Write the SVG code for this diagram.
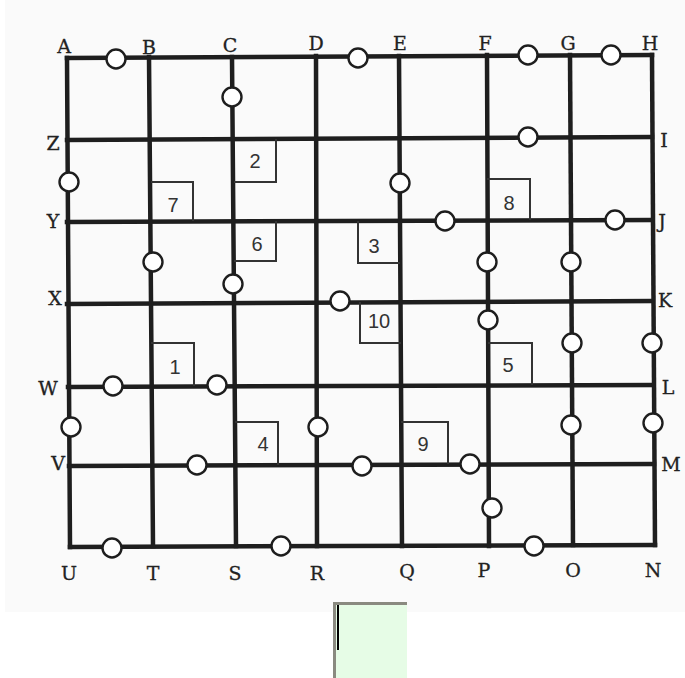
<svg xmlns="http://www.w3.org/2000/svg" width="685" height="678" viewBox="0 0 685 678">
<style>
.ln{stroke:#1e1e1e;stroke-width:4.5;stroke-linecap:square;fill:none}
.bx{stroke:#333;stroke-width:2;fill:none}
.c{fill:#fff;stroke:#1e1e1e;stroke-width:2.4}
.lb{font-family:"DejaVu Serif","Liberation Serif",serif;font-size:19px;fill:#222;stroke:#222;stroke-width:0.3;text-anchor:middle}
.num{font-family:"Liberation Sans","DejaVu Sans",sans-serif;font-size:20px;fill:#333;text-anchor:middle}
</style>
<rect x="0" y="0" width="685" height="678" fill="#fff"/>
<rect x="5" y="0" width="680" height="612" fill="#fafafa"/>
<g id="connectors">
<line class="ln" x1="67" y1="58" x2="652" y2="55"/>
<line class="ln" x1="67" y1="140" x2="652" y2="137"/>
<line class="ln" x1="67" y1="222" x2="652" y2="220"/>
<line class="ln" x1="67" y1="304" x2="652" y2="301"/>
<line class="ln" x1="68" y1="387" x2="653" y2="385"/>
<line class="ln" x1="69" y1="466" x2="654" y2="464"/>
<line class="ln" x1="70" y1="547" x2="655" y2="545"/>
<line class="ln" x1="67" y1="58" x2="70" y2="547"/>
<line class="ln" x1="149" y1="57" x2="153" y2="546"/>
<line class="ln" x1="232" y1="57" x2="236" y2="546"/>
<line class="ln" x1="316" y1="56" x2="317" y2="546"/>
<line class="ln" x1="399" y1="56" x2="402" y2="546"/>
<line class="ln" x1="487" y1="55" x2="489" y2="546"/>
<line class="ln" x1="570" y1="55" x2="573" y2="545"/>
<line class="ln" x1="652" y1="55" x2="655" y2="545"/>
</g>
<g id="boxes">
<g id="box2"><polyline class="bx" points="276,139 276,182 234,182"/><text class="num" x="255" y="168">2</text></g>
<g id="box7"><polyline class="bx" points="151,182 193,182 193,221"/><text class="num" x="173" y="212">7</text></g>
<g id="box6"><polyline class="bx" points="276,221 276,261 234,261"/><text class="num" x="257" y="251">6</text></g>
<g id="box3"><polyline class="bx" points="358,221 358,263 400,263"/><text class="num" x="374" y="253">3</text></g>
<g id="box8"><polyline class="bx" points="487,179 530,179 530,220"/><text class="num" x="509" y="210">8</text></g>
<g id="box10"><polyline class="bx" points="360,302 360,343 401,343"/><text class="num" x="379" y="328">10</text></g>
<g id="box1"><polyline class="bx" points="151,343 194,343 194,386"/><text class="num" x="175" y="374">1</text></g>
<g id="box4"><polyline class="bx" points="235,422 278,422 278,465"/><text class="num" x="263" y="451">4</text></g>
<g id="box5"><polyline class="bx" points="488,343 532,343 532,385"/><text class="num" x="508" y="372">5</text></g>
<g id="box9"><polyline class="bx" points="401,422 448,422 448,464"/><text class="num" x="423" y="451">9</text></g>
</g>
<g id="circles">
<circle class="c" cx="116" cy="59" r="9.5"/>
<circle class="c" cx="358" cy="58" r="9.5"/>
<circle class="c" cx="528" cy="55" r="9.5"/>
<circle class="c" cx="611" cy="55" r="9.5"/>
<circle class="c" cx="232" cy="97" r="9.5"/>
<circle class="c" cx="528" cy="137" r="9.5"/>
<circle class="c" cx="69" cy="182" r="9.5"/>
<circle class="c" cx="400" cy="183" r="9.5"/>
<circle class="c" cx="445" cy="221" r="9.5"/>
<circle class="c" cx="615" cy="220" r="9.5"/>
<circle class="c" cx="153" cy="262" r="9.5"/>
<circle class="c" cx="233" cy="284" r="9.5"/>
<circle class="c" cx="487" cy="262" r="9.5"/>
<circle class="c" cx="571" cy="262" r="9.5"/>
<circle class="c" cx="340" cy="301" r="9.5"/>
<circle class="c" cx="488" cy="320" r="9.5"/>
<circle class="c" cx="572" cy="343" r="9.5"/>
<circle class="c" cx="652" cy="343" r="9.5"/>
<circle class="c" cx="113" cy="386" r="9.5"/>
<circle class="c" cx="217" cy="385" r="9.5"/>
<circle class="c" cx="71" cy="427" r="9.5"/>
<circle class="c" cx="318" cy="427" r="9.5"/>
<circle class="c" cx="571" cy="425" r="9.5"/>
<circle class="c" cx="653" cy="423" r="9.5"/>
<circle class="c" cx="197" cy="465" r="9.5"/>
<circle class="c" cx="362" cy="466" r="9.5"/>
<circle class="c" cx="470" cy="464" r="9.5"/>
<circle class="c" cx="492" cy="508" r="9.5"/>
<circle class="c" cx="112" cy="548" r="9.5"/>
<circle class="c" cx="281" cy="546" r="9.5"/>
<circle class="c" cx="534" cy="546" r="9.5"/>
</g>
<g id="labels">
<text class="lb" x="64" y="53">A</text>
<text class="lb" x="149" y="54">B</text>
<text class="lb" x="230" y="52">C</text>
<text class="lb" x="316" y="50">D</text>
<text class="lb" x="400" y="50">E</text>
<text class="lb" x="485" y="50">F</text>
<text class="lb" x="568" y="50">G</text>
<text class="lb" x="650" y="50">H</text>
<text class="lb" x="53" y="150">Z</text>
<text class="lb" x="53" y="228">Y</text>
<text class="lb" x="55" y="305">X</text>
<text class="lb" x="48" y="395">W</text>
<text class="lb" x="58" y="470">V</text>
<text class="lb" x="664" y="147">I</text>
<text class="lb" x="662" y="228">J</text>
<text class="lb" x="665" y="307">K</text>
<text class="lb" x="668" y="394">L</text>
<text class="lb" x="671" y="471">M</text>
<text class="lb" x="69" y="580">U</text>
<text class="lb" x="153" y="580">T</text>
<text class="lb" x="235" y="580">S</text>
<text class="lb" x="317" y="580">R</text>
<text class="lb" x="407" y="578">Q</text>
<text class="lb" x="484" y="577">P</text>
<text class="lb" x="573" y="577">O</text>
<text class="lb" x="653" y="577">N</text>
</g>
<g id="input">
<rect x="333" y="602" width="74" height="80" fill="#e6fce6"/>
<polyline points="334.5,678 334.5,603.5 407,603.5" fill="none" stroke="#8a8a80" stroke-width="3"/>
<line x1="338" y1="605" x2="338" y2="650" stroke="#000" stroke-width="2"/>
</g>
</svg>
